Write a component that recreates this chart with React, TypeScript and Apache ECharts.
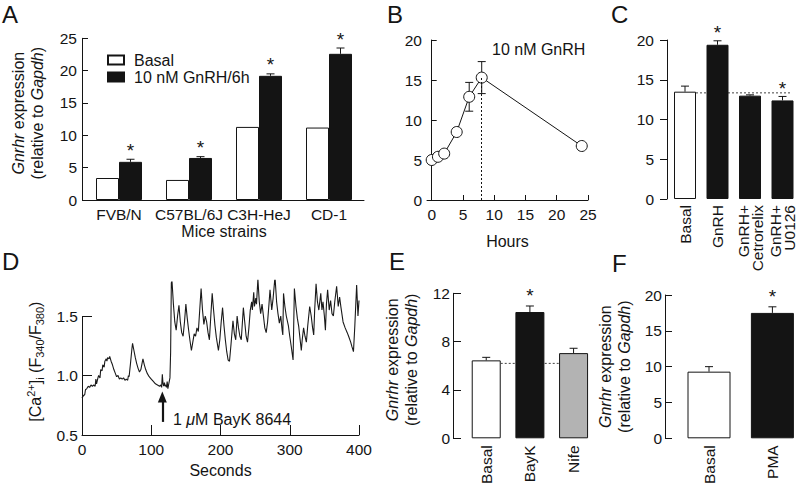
import React, { useEffect, useRef } from 'react';
import * as echarts from 'echarts';

const FONT = '"Liberation Sans", Arial, Helvetica, sans-serif';
const BLACK = '#141414';

// Panel A
const strains = ['FVB/N', 'C57BL/6J', 'C3H-HeJ', 'CD-1'];
const basalA = [3.4, 3.1, 11.3, 11.2];
const gnrhA = [5.9, 6.5, 19.2, 22.6];
const gnrhAErr = [0.4, 0.2, 0.3, 0.9];
const gnrhASig = [1, 1, 1, 1];

// Panel B
const hoursB = [0, 1, 2, 4, 6, 8, 24];
const gnrhB = [5.0, 5.4, 5.8, 8.5, 12.9, 15.3, 6.75];
const errB = [0, 0, 0, 0, 1.8, 2.0, 0];
const hourTicks = [0, 5, 10, 15, 20, 25];
const peakIndexB = 5;

// Panel C
const treatmentsC = ['Basal', 'GnRH', 'GnRH+\nCetrorelix', 'GnRH+\nU0126'];
const valuesC = [13.5, 19.4, 13.0, 12.4];
const errC = [0.7, 0.5, 0.1, 0.5];
const sigC = [0, 1, 0, 1];
const basalRefC = 13.35;

// Panel D
const traceD: [number, number][] = [
  [0, 0.81], [2, 0.83], [4, 0.84], [5, 0.88], [7, 0.89], [9, 0.91], [11, 0.9], [13, 0.92], [15, 0.91], [17, 0.92],
  [19, 0.91], [20, 0.97], [21, 0.93], [23, 0.98], [24, 1.0], [26, 0.98], [27, 1.05], [29, 1.04], [30, 1.09], [32, 1.07],
  [33, 1.12], [35, 1.14], [36, 1.12], [37, 1.15], [39, 1.14], [40, 1.16], [42, 1.12], [44, 1.09], [46, 1.05], [48, 1.02],
  [50, 0.99], [52, 1.0], [54, 0.97], [56, 0.98], [58, 0.97], [60, 0.98], [62, 0.96], [64, 0.97], [66, 0.96], [67, 1.0],
  [68, 0.99], [70, 1.1], [72, 1.22], [73, 1.27], [75, 1.21], [77, 1.15], [79, 1.1], [81, 1.06], [83, 1.03], [85, 1.05],
  [87, 1.11], [88, 1.14], [90, 1.09], [92, 1.05], [94, 1.02], [97, 0.99], [100, 0.97], [103, 0.95], [106, 0.93], [109, 0.92],
  [112, 0.91], [114, 0.92], [115, 0.9], [116, 1.01], [117, 0.93], [118, 0.91], [119, 0.94], [120, 0.91], [121, 0.92], [122, 0.9],
  [123, 0.95], [124, 0.89], [125, 0.92], [126, 0.95], [127, 0.98], [128, 1.2], [129, 1.78], [130, 1.79], [132, 1.6], [134, 1.45],
  [136, 1.38], [138, 1.5], [140, 1.59], [142, 1.45], [144, 1.36], [146, 1.33], [148, 1.45], [150, 1.6], [152, 1.48], [154, 1.38],
  [156, 1.29], [158, 1.21], [160, 1.28], [162, 1.35], [164, 1.33], [166, 1.4], [168, 1.37], [170, 1.55], [172, 1.73], [174, 1.55],
  [176, 1.43], [178, 1.5], [180, 1.45], [182, 1.36], [184, 1.3], [186, 1.5], [188, 1.69], [190, 1.55], [192, 1.42], [194, 1.32],
  [197, 1.21], [199, 1.3], [201, 1.45], [203, 1.57], [205, 1.42], [207, 1.3], [209, 1.2], [211, 1.13], [213, 1.12], [215, 1.25],
  [218, 1.46], [220, 1.35], [222, 1.3], [224, 1.5], [226, 1.4], [228, 1.33], [230, 1.3], [233, 1.57], [235, 1.45], [237, 1.33],
  [239, 1.28], [241, 1.4], [243, 1.55], [245, 1.62], [246, 1.55], [248, 1.7], [249, 1.58], [251, 1.65], [252, 1.6], [254, 1.81],
  [256, 1.62], [258, 1.52], [260, 1.6], [262, 1.5], [264, 1.4], [266, 1.36], [268, 1.45], [270, 1.6], [271.5, 1.72], [274, 1.55],
  [276, 1.65], [278.7, 1.83], [281, 1.62], [283, 1.52], [285, 1.44], [287, 1.5], [289, 1.38], [290, 1.34], [291, 1.69], [293, 1.58],
  [295, 1.5], [298, 1.42], [300, 1.33], [302, 1.25], [304.8, 1.13], [306.7, 1.73], [309, 1.58], [311, 1.48], [313, 1.41], [315, 1.3],
  [316.7, 1.21], [318, 1.3], [320, 1.4], [322, 1.33], [324, 1.28], [326, 1.42], [328.8, 1.58], [331, 1.5], [333, 1.4], [334.6, 1.34],
  [336, 1.55], [338, 1.77], [340, 1.62], [342, 1.55], [344.8, 1.69], [346.5, 1.55], [348, 1.62], [350, 1.5], [351.5, 1.38], [353, 1.6],
  [354.7, 1.72], [357, 1.55], [359, 1.63], [361, 1.52], [363, 1.5], [365, 1.62], [367.7, 1.75], [370, 1.58], [372, 1.66], [374, 1.57],
  [377, 1.45], [380, 1.4], [383, 1.36], [385, 1.33], [388, 1.28], [389.9, 1.24], [392, 1.2], [394, 1.42], [396.6, 1.76], [398.5, 1.5],
  [400, 1.63],
];
const ratioTicks = [0.5, 1.0, 1.5];
const bayKTime = 116;
const arrowFrom = 0.61;
const arrowTo = 0.82;

// Panel E
const treatmentsE = ['Basal', 'BayK', 'Nife'];
const valuesE = [6.45, 10.45, 7.05];
const errE = [0.25, 0.5, 0.4];
const sigE = [0, 1, 0];
const basalRefE = 6.2;

// Panel F
const treatmentsF = ['Basal', 'PMA'];
const valuesF = [9.3, 17.5];
const errF = [0.7, 0.85];
const sigF = [0, 1];

const fillC = ['#ffffff', BLACK, BLACK, BLACK];
const fillE = ['#ffffff', BLACK, '#b3b3b3'];
const fillF = ['#ffffff', BLACK];

function errRender(offset: number, cap: number, twoSided: boolean, starDy: number) {
  return (params: any, api: any) => {
    const x = api.value(0);
    const v = api.value(1);
    const e = api.value(2);
    const s = api.value(3);
    const pTop = api.coord([x, v + e]);
    const pBase = api.coord([x, twoSided ? v - e : v]);
    const cx = pTop[0] + offset;
    const st = { stroke: BLACK, lineWidth: 1 };
    const children: any[] = [];
    if (e > 0) {
      children.push({ type: 'line', shape: { x1: cx, y1: pBase[1], x2: cx, y2: pTop[1] }, style: st });
      children.push({ type: 'line', shape: { x1: cx - cap, y1: pTop[1], x2: cx + cap, y2: pTop[1] }, style: st });
      if (twoSided) {
        children.push({ type: 'line', shape: { x1: cx - cap, y1: pBase[1], x2: cx + cap, y2: pBase[1] }, style: st });
      }
    }
    if (s) {
      children.push({
        type: 'text',
        x: cx,
        y: pTop[1] - starDy,
        style: { text: '*', fontSize: 19, fontFamily: FONT, fill: BLACK, align: 'center', verticalAlign: 'middle' },
      });
    }
    return { type: 'group', children };
  };
}

function refLineRender(startOffset: number, endOffset: number) {
  return (params: any, api: any) => {
    const s = api.coord([api.value(0), api.value(2)]);
    const e = api.coord([api.value(1), api.value(2)]);
    return {
      type: 'line',
      shape: { x1: s[0] + startOffset, y1: s[1], x2: e[0] + endOffset, y2: e[1] },
      style: { stroke: '#444', lineWidth: 1, lineDash: [2, 2] },
    };
  };
}

const tickLabel = { color: BLACK, fontSize: 15.5, fontFamily: FONT };
const axisLine = { show: true, lineStyle: { color: BLACK, width: 1 } };
const tickStyle = { color: BLACK, width: 1 };
const nameStyle = { color: BLACK, fontSize: 16, fontFamily: FONT };
const geneName = '{i|Gnrhr} expression\n(relative to {i|Gapdh})';
const geneNameStyle = (pad: number[]) => ({
  ...nameStyle,
  lineHeight: 19,
  padding: pad,
  rich: { i: { fontStyle: 'italic', fontSize: 16, fontFamily: FONT, color: BLACK, lineHeight: 19 } },
});

function buildOption(): any {
  const errData = (vals: number[], errs: number[], sig: number[]) => vals.map((v, i) => [i, v, errs[i], sig[i]]);
  return {
    animation: false,
    backgroundColor: '#fff',
    textStyle: { fontFamily: FONT },
    grid: [
      { left: 84, top: 38.3, width: 280, height: 161.7, outerBoundsMode: 'none' },
      { left: 427, top: 40, width: 161, height: 160, outerBoundsMode: 'none' },
      { left: 668.75, top: 40, width: 130, height: 159, outerBoundsMode: 'none' },
      { left: 82, top: 280.3, width: 277, height: 154.7, outerBoundsMode: 'none' },
      { left: 464.4, top: 293.3, width: 131, height: 145, outerBoundsMode: 'none' },
      { left: 677.3, top: 295, width: 126.8, height: 143.3, outerBoundsMode: 'none' },
    ],
    legend: {
      data: ['Basal', '10 nM GnRH/6h'],
      orient: 'vertical',
      left: 107,
      top: 52,
      padding: 0,
      itemWidth: 16,
      itemHeight: 9,
      itemGap: 1,
      icon: 'rect',
      textStyle: { color: BLACK, fontSize: 16, fontFamily: FONT, padding: [0, 0, 0, 5] },
    },
    xAxis: [
      {
        gridIndex: 0, type: 'category', data: strains, axisLine, axisTick: { show: false },
        axisLabel: { ...tickLabel, margin: 6, interval: 0 },
        name: 'Mice strains', nameLocation: 'middle', nameGap: 23, nameTextStyle: nameStyle,
      },
      {
        gridIndex: 1, type: 'value', min: -0.75, max: 25, axisLine,
        axisTick: { show: true, inside: true, length: 5, lineStyle: tickStyle, customValues: hourTicks },
        axisLabel: { ...tickLabel, margin: 6, customValues: hourTicks },
        splitLine: { show: false },
        name: 'Hours', nameLocation: 'middle', nameGap: 33, nameTextStyle: nameStyle,
      },
      {
        gridIndex: 2, type: 'category', data: treatmentsC, axisLine: { show: false }, axisTick: { show: false },
        axisLabel: { ...tickLabel, rotate: 90, margin: 6, interval: 0, lineHeight: 14 },
      },
      {
        gridIndex: 3, type: 'value', min: 0, max: 400, interval: 100, axisLine,
        axisTick: { show: true, inside: true, length: 10, lineStyle: tickStyle },
        axisLabel: { ...tickLabel, margin: 6 },
        splitLine: { show: false },
        name: 'Seconds', nameLocation: 'middle', nameGap: 27, nameTextStyle: nameStyle,
      },
      {
        gridIndex: 4, type: 'category', data: treatmentsE, axisLine: { show: false }, axisTick: { show: false },
        axisLabel: { ...tickLabel, rotate: 90, margin: 7, interval: 0 },
      },
      {
        gridIndex: 5, type: 'category', data: treatmentsF, axisLine: { show: false }, axisTick: { show: false },
        axisLabel: { ...tickLabel, rotate: 90, margin: 7, interval: 0 },
      },
    ],
    yAxis: [
      {
        gridIndex: 0, type: 'value', min: 0, max: 25, interval: 5, offset: 2, axisLine,
        axisTick: { show: true, inside: true, length: 6, lineStyle: tickStyle },
        axisLabel: { ...tickLabel, margin: 5 }, splitLine: { show: false },
        name: geneName, nameLocation: 'middle', nameGap: 35, nameTextStyle: geneNameStyle([0, 0, 0, 12]),
      },
      {
        gridIndex: 1, type: 'value', min: 0, max: 20, interval: 5, axisLine,
        axisTick: { show: true, inside: true, length: 5, lineStyle: tickStyle },
        axisLabel: { ...tickLabel, margin: 5 }, splitLine: { show: false },
      },
      {
        gridIndex: 2, type: 'value', min: 0, max: 20, interval: 5, offset: 1.75, axisLine,
        axisTick: { show: true, inside: false, length: 7, lineStyle: tickStyle },
        axisLabel: { ...tickLabel, margin: 13 }, splitLine: { show: false },
      },
      {
        gridIndex: 3, type: 'value', min: 0.5, max: 1.8, axisLine: { show: false },
        axisTick: { show: true, inside: true, length: 10, lineStyle: tickStyle, customValues: ratioTicks },
        axisLabel: { ...tickLabel, margin: 4, customValues: ratioTicks, formatter: (v: number) => v.toFixed(1) },
        splitLine: { show: false },
        name: '[Ca{sup|2+}]{sub|i} (F{sub|340}/F{sub|380})', nameLocation: 'middle', nameGap: 37,
        nameTextStyle: {
          ...nameStyle, lineHeight: 20, padding: [0, 8, 0, 0],
          rich: {
            sup: { fontSize: 11, fontFamily: FONT, color: BLACK, verticalAlign: 'top', lineHeight: 20 },
            sub: { fontSize: 11, fontFamily: FONT, color: BLACK, verticalAlign: 'bottom', lineHeight: 20 },
          },
        },
      },
      {
        gridIndex: 4, type: 'value', min: 0, max: 12, interval: 4, offset: 11.4, axisLine,
        axisTick: { show: true, inside: true, length: 8, lineStyle: tickStyle },
        axisLabel: { ...tickLabel, margin: 3 }, splitLine: { show: false },
        name: geneName, nameLocation: 'middle', nameGap: 32, nameTextStyle: geneNameStyle([0, 0, 0, 12]),
      },
      {
        gridIndex: 5, type: 'value', min: 0, max: 20, interval: 5, offset: 12.3, axisLine,
        axisTick: { show: true, inside: true, length: 7, lineStyle: tickStyle },
        axisLabel: { ...tickLabel, margin: 3 }, splitLine: { show: false },
        name: geneName, nameLocation: 'middle', nameGap: 31, nameTextStyle: geneNameStyle([0, 0, 0, 0]),
      },
    ],
    series: [
      // A
      {
        name: 'Basal', type: 'bar', xAxisIndex: 0, yAxisIndex: 0, data: basalA, barWidth: 23, barGap: '0%', z: 2,
        itemStyle: { color: '#fff', borderColor: BLACK, borderWidth: 1 },
      },
      {
        name: '10 nM GnRH/6h', type: 'bar', xAxisIndex: 0, yAxisIndex: 0, data: gnrhA, barWidth: 23, barGap: '0%', z: 2,
        itemStyle: { color: BLACK, borderColor: BLACK, borderWidth: 1 },
      },
      {
        name: 'errA', type: 'custom', xAxisIndex: 0, yAxisIndex: 0, z: 3,
        data: errData(gnrhA, gnrhAErr, gnrhASig), encode: { x: 0, y: 1 }, renderItem: errRender(11.5, 4, false, 9),
      },
      // B
      {
        name: 'errB', type: 'custom', xAxisIndex: 1, yAxisIndex: 1, z: 1,
        data: hoursB.map((h, i) => [h, gnrhB[i], errB[i], 0]), encode: { x: 0, y: 1 }, renderItem: errRender(0, 4, true, 0),
      },
      {
        name: 'timecourse', type: 'line', xAxisIndex: 1, yAxisIndex: 1, z: 3,
        data: hoursB.map((h, i) => [h, gnrhB[i]]),
        symbol: 'circle', symbolSize: 11, showSymbol: true,
        itemStyle: { color: '#fff', borderColor: BLACK, borderWidth: 1 },
        lineStyle: { color: BLACK, width: 1 },
        markLine: {
          silent: true, symbol: ['none', 'none'], label: { show: false },
          lineStyle: { color: BLACK, width: 1, type: [2, 2] },
          data: [[{ coord: [hoursB[peakIndexB], 0] }, { coord: [hoursB[peakIndexB], gnrhB[peakIndexB]] }]],
        },
      },
      // C
      {
        name: 'refC', type: 'custom', xAxisIndex: 2, yAxisIndex: 2, z: 1,
        data: [[0, treatmentsC.length - 1, basalRefC]], encode: { x: [0, 1], y: 2 }, renderItem: refLineRender(11, 8),
      },
      {
        name: 'barsC', type: 'bar', xAxisIndex: 2, yAxisIndex: 2, barWidth: 22, z: 2,
        data: valuesC.map((v, i) => ({ value: v, itemStyle: { color: fillC[i], borderColor: BLACK, borderWidth: 1 } })),
      },
      {
        name: 'errC', type: 'custom', xAxisIndex: 2, yAxisIndex: 2, z: 3,
        data: errData(valuesC, errC, sigC), encode: { x: 0, y: 1 }, renderItem: errRender(0, 4, false, 8),
      },
      // D
      {
        name: 'trace', type: 'line', xAxisIndex: 3, yAxisIndex: 3, data: traceD, showSymbol: false, symbol: 'none',
        lineStyle: { color: '#1a1a1a', width: 1.1 },
        markLine: {
          silent: true, label: { show: false }, symbol: ['none', 'none'],
          data: [
            [
              { coord: [0, ratioTicks[0]], lineStyle: { color: BLACK, width: 1, type: 'solid' } },
              { coord: [0, ratioTicks[ratioTicks.length - 1]] },
            ],
            [
              { coord: [bayKTime, arrowFrom], symbol: 'none', lineStyle: { color: BLACK, width: 2.2, type: 'solid' } },
              { coord: [bayKTime, arrowTo], symbol: 'triangle', symbolSize: [9, 11], symbolRotate: 0 },
            ],
          ],
        },
      },
      // E
      {
        name: 'refE', type: 'custom', xAxisIndex: 4, yAxisIndex: 4, z: 1,
        data: [[0, treatmentsE.length - 1, basalRefE]], encode: { x: [0, 1], y: 2 }, renderItem: refLineRender(14.5, -14.5),
      },
      {
        name: 'barsE', type: 'bar', xAxisIndex: 4, yAxisIndex: 4, barWidth: 29, z: 2,
        data: valuesE.map((v, i) => ({ value: v, itemStyle: { color: fillE[i], borderColor: BLACK, borderWidth: 1 } })),
      },
      {
        name: 'errE', type: 'custom', xAxisIndex: 4, yAxisIndex: 4, z: 3,
        data: errData(valuesE, errE, sigE), encode: { x: 0, y: 1 }, renderItem: errRender(0, 4, false, 10),
      },
      // F
      {
        name: 'barsF', type: 'bar', xAxisIndex: 5, yAxisIndex: 5, barWidth: 43, z: 2,
        data: valuesF.map((v, i) => ({ value: v, itemStyle: { color: fillF[i], borderColor: BLACK, borderWidth: 1 } })),
      },
      {
        name: 'errF', type: 'custom', xAxisIndex: 5, yAxisIndex: 5, z: 3,
        data: errData(valuesF, errF, sigF), encode: { x: 0, y: 1 }, renderItem: errRender(0, 4, false, 10),
      },
    ],
    graphic: [
      ...[
        ['A', 2, 2], ['B', 387, 2], ['C', 611, 2], ['D', 2, 249], ['E', 389, 249], ['F', 612, 251],
      ].map(([t, x, y]) => ({
        type: 'text', left: x as number, top: y as number,
        style: { text: t as string, fontSize: 24, fontFamily: FONT, fill: BLACK },
      })),
      {
        type: 'text', left: 492, top: 41,
        style: { text: '10 nM GnRH', fontSize: 16, fontFamily: FONT, fill: BLACK },
      },
      {
        type: 'text', left: 173, top: 411,
        style: {
          text: '1 {i|μ}M BayK 8644', fontSize: 16, fontFamily: FONT, fill: BLACK,
          rich: { i: { fontStyle: 'italic', fontSize: 16, fontFamily: FONT, fill: BLACK } },
        },
      },
    ],
  };
}

export default function App() {
  const ref = useRef<HTMLDivElement>(null);
  useEffect(() => {
    const chart = echarts.init(ref.current as HTMLDivElement, null, { renderer: 'svg' });
    chart.setOption(buildOption());
    return () => chart.dispose();
  }, []);
  return (
    <div
      ref={ref}
      style={{ position: 'fixed', left: 0, top: 0, width: 800, height: 484, background: '#fff' }}
    />
  );
}
